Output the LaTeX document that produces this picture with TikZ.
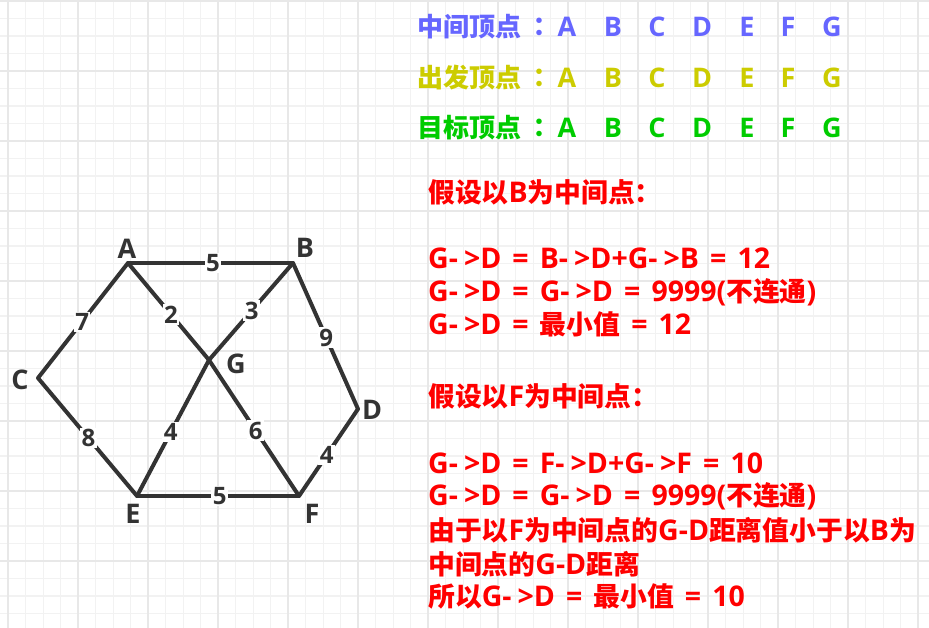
\documentclass[tikz,border=0pt]{standalone}
\usepackage{fontspec}
\newfontfamily\cjk{Noto Sans CJK SC}
\newfontfamily\cjktc{Noto Sans CJK TC}
\newfontfamily\lat{Open Sans}[WordSpace=1.5]
\newcommand\zh[1]{{\cjk\fontsize{26.8}{30}\selectfont #1}}
\newcommand\myarr{-\kern6pt>}
\newcommand\hcolon{\kern5pt{\cjktc ：}}
\definecolor{gminor}{RGB}{242,242,242}
\definecolor{gmajor}{RGB}{232,232,232}
\definecolor{cblue}{RGB}{102,102,255}
\definecolor{cyellow}{RGB}{204,204,0}
\definecolor{cgreen}{RGB}{0,204,0}
\definecolor{cred}{RGB}{255,0,0}
\definecolor{cdark}{RGB}{51,51,51}
\tikzset{
  gridminor/.style={draw=gminor,line width=1.3pt},
  gridmajor/.style={draw=gmajor,line width=2pt},
  txt/.style={font=\lat\bfseries\fontsize{28.5}{32}\selectfont,inner sep=0pt},
  head/.style={font=\cjk\bfseries\fontsize{26}{30}\selectfont,inner sep=0pt,anchor=west},
  letter/.style={font=\lat\bfseries\fontsize{27}{32}\selectfont,inner sep=0pt,anchor=center},
  redline/.style={txt,anchor=west,text=cred},
  vertex/.style={inner sep=0pt,minimum size=0pt},
  vlabel/.style={font=\lat\bfseries\fontsize{27}{32}\selectfont,text=cdark,inner sep=0pt},
  edge/.style={draw=cdark,line width=4pt,line cap=round},
  wlabel/.style={font=\lat\bfseries\fontsize{24}{28}\selectfont,text=cdark,fill=white,inner sep=1.5pt},
}
\begin{document}
\begin{tikzpicture}[x=1pt,y=-1pt]
\useasboundingbox (0,0) rectangle (929,628);
\fill[white] (0,0) rectangle (929,628);
% grid
\foreach \k in {0,...,52} \draw[gridminor] (8.3+17.5*\k,0) -- (8.3+17.5*\k,628);
\foreach \k in {0,...,35} \draw[gridminor] (0,1+17.5*\k) -- (929,1+17.5*\k);
\foreach \k in {0,...,13} \draw[gridmajor] (8.3+70*\k,0) -- (8.3+70*\k,628);
\foreach \k in {0,...,8} \draw[gridmajor] (0,1+70*\k) -- (929,1+70*\k);

% header rows
\node[head,text=cblue] (h1) at (417,27) {中间顶点\hcolon};
\node[head,text=cyellow] (h2) at (417,78) {出发顶点\hcolon};
\node[head,text=cgreen] (h3) at (417,128) {目标顶点\hcolon};
\foreach \L/\X in {A/567,B/613,C/657,D/702,E/747,F/788,G/832}{
  \node[letter,text=cblue] (m\L) at (\X,27) {\L};
  \node[letter,text=cyellow] (s\L) at (\X,78) {\L};
  \node[letter,text=cgreen] (t\L) at (\X,128) {\L};
}

% red explanation
\node[redline] (r1) at (428,192) {\zh{假设以}B\zh{为中间点：}};
\node[redline] (r2) at (428,258) {G\myarr D = B\myarr D+G\myarr B = 12};
\node[redline] (r3) at (428,292) {G\myarr D = G\myarr D = 9999(\zh{不连通})};
\node[redline] (r4) at (428,324) {G\myarr D = \zh{最小值} = 12};
\node[redline] (r5) at (428,396) {\zh{假设以}F\zh{为中间点：}};
\node[redline] (r6) at (428,463) {G\myarr D = F\myarr D+G\myarr F = 10};
\node[redline] (r7) at (428,496) {G\myarr D = G\myarr D = 9999(\zh{不连通})};
\node[redline] (r8) at (428,530) {\zh{由于以}F\zh{为中间点的}G-D\zh{距离值小于以}B\zh{为}};
\node[redline] (r9) at (428,564) {\zh{中间点的}G-D\zh{距离}};
\node[redline] (r10) at (428,596) {\zh{所以}G\myarr D = \zh{最小值} = 10};

% graph vertices
\node[vertex] (A) at (128,263) {};
\node[vertex] (B) at (293,263) {};
\node[vertex] (C) at (38,378) {};
\node[vertex] (G) at (209,360) {};
\node[vertex] (D) at (358,409) {};
\node[vertex] (E) at (137,496) {};
\node[vertex] (F) at (299,496) {};

% edges
\draw[edge] (A) -- node[wlabel,pos=0.515] (wAB) {5} (B);
\draw[edge] (A) -- node[wlabel,pos=0.51] (wAC) {7} (C);
\draw[edge] (A) -- node[wlabel,pos=0.53] (wAG) {2} (G);
\draw[edge] (B) -- node[wlabel,pos=0.49] (wBG) {3} (G);
\draw[edge] (B) -- node[wlabel,pos=0.51] (wBD) {9} (D);
\draw[edge] (C) -- node[wlabel,pos=0.51] (wCE) {8} (E);
\draw[edge] (G) -- node[wlabel,pos=0.53] (wGE) {4} (E);
\draw[edge] (G) -- node[wlabel,pos=0.52] (wGF) {6} (F);
\draw[edge] (D) -- node[wlabel,pos=0.53] (wDF) {4} (F);
\draw[edge] (E) -- node[wlabel,pos=0.51] (wEF) {5} (F);

% vertex labels
\node[vlabel] (lA) at (127,249) {A};
\node[vlabel] (lB) at (305,248) {B};
\node[vlabel] (lC) at (20,380) {C};
\node[vlabel] (lG) at (236,364) {G};
\node[vlabel] (lD) at (372,410) {D};
\node[vlabel] (lE) at (133,514) {E};
\node[vlabel] (lF) at (312,514) {F};
\end{tikzpicture}
\end{document}
